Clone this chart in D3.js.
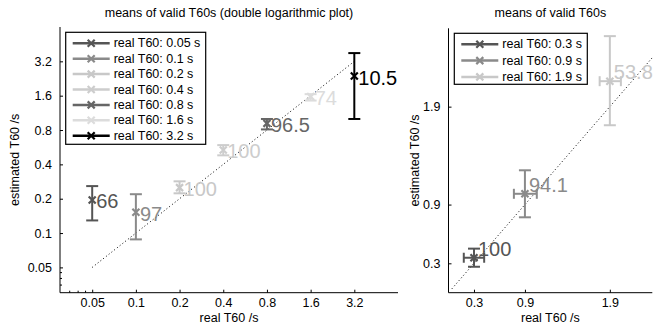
<!DOCTYPE html>
<html>
<head>
<script src="https://d3js.org/d3.v7.min.js"></script>
<style>
  body { margin: 0; background: #fff; }
  text { font-family: "Liberation Sans", Arial, sans-serif; }
</style>
</head>
<body>
<script>
// left panel: double log plot
const realL = [0.05, 0.1, 0.2, 0.4, 0.8, 1.6, 3.2];
const meanL = [0.195, 0.152, 0.25, 0.535, 0.915, 1.57, 2.38];
const lowL  = [0.129, 0.088, 0.223, 0.48, 0.81, 1.45, 1.0];
const highL = [0.258, 0.219, 0.284, 0.59, 1.0, 1.65, 3.78];
const pctL  = ["66", "97", "100", "100", "96.5", "74", "10.5"];
const colL  = ["#555", "#8a8a8a", "#c8c8c8", "#cdcdcd", "#666", "#dcdcdc", "#000"];
const ticksL = [0.05, 0.1, 0.2, 0.4, 0.8, 1.6, 3.2];
const minorL = [0.035, 0.04, 0.045];

// right panel: linear plot
const realR = [0.3, 0.9, 1.9];
const meanR = [0.357, 1.01, 2.16];
const lowR  = [0.265, 0.77, 1.71];
const highR = [0.45, 1.25, 2.62];
const xLowR = [0.18, 0.77, 1.78];
const xHighR = [0.42, 1.04, 2.03];
const pctR  = ["100", "94.1", "53.8"];
const colR  = ["#555", "#8a8a8a", "#c8c8c8"];
const ticksR = [0.3, 0.9, 1.9];

const svg = d3.select("body").append("svg")
  .attr("width", 662).attr("height", 327);

function panel(o) {
  const g = svg.append("g");
  const x = o.x, y = o.y;
  const [x0, x1] = x.range(), [y0, y1] = y.range();

  // diagonal reference
  g.append("line")
    .attr("x1", x(o.diag[0])).attr("y1", y(o.diag[0]))
    .attr("x2", x(o.diag[1])).attr("y2", y(o.diag[1]))
    .attr("stroke", "#000").attr("stroke-width", 1)
    .attr("stroke-dasharray", "1,2.5");

  // axes (inward ticks, no box)
  const ax = g.append("g").attr("transform", `translate(0,${y0})`)
    .call(d3.axisBottom(x).tickValues(o.ticks).tickFormat(d => d).tickSizeInner(-3).tickSizeOuter(0).tickPadding(5));
  const ay = g.append("g").attr("transform", `translate(${x0},0)`)
    .call(d3.axisLeft(y).tickValues(o.ticks).tickFormat(d => d).tickSizeInner(-3).tickSizeOuter(0).tickPadding(8));
  [ax, ay].forEach(a => {
    a.select(".domain").remove();
    a.selectAll("text").attr("font-size", 12.5).attr("fill", "#000");
  });
  g.append("line").attr("x1", x0).attr("x2", x0).attr("y1", y0).attr("y2", y1).attr("stroke", "#000");
  g.append("line").attr("x1", x0).attr("x2", x1).attr("y1", y0).attr("y2", y0).attr("stroke", "#000");
  if (o.minor) {
    o.minor.forEach(m => {
      g.append("line").attr("x1", x(m)).attr("x2", x(m)).attr("y1", y0).attr("y2", y0 - 2).attr("stroke", "#000");
      g.append("line").attr("x1", x0).attr("x2", x0 + 2).attr("y1", y(m)).attr("y2", y(m)).attr("stroke", "#000");
    });
  }

  // error bars and markers
  o.real.forEach((r, i) => {
    const c = o.col[i], cx = x(r), cy = y(o.mean[i]);
    const e = g.append("g").attr("stroke", c).attr("stroke-width", 2).attr("fill", "none");
    e.append("line").attr("x1", cx).attr("x2", cx).attr("y1", y(o.low[i])).attr("y2", y(o.high[i]));
    [o.low[i], o.high[i]].forEach(v =>
      e.append("line").attr("x1", cx - 6).attr("x2", cx + 6).attr("y1", y(v)).attr("y2", y(v)));
    if (o.xlow) {
      e.append("line").attr("x1", x(o.xlow[i])).attr("x2", x(o.xhigh[i])).attr("y1", cy).attr("y2", cy);
      [o.xlow[i], o.xhigh[i]].forEach(v =>
        e.append("line").attr("x1", x(v)).attr("x2", x(v)).attr("y1", cy - 5).attr("y2", cy + 5));
    }
    e.append("path").attr("stroke-width", 2.2)
      .attr("d", `M${cx - 3.5},${cy - 3.5}L${cx + 3.5},${cy + 3.5}M${cx - 3.5},${cy + 3.5}L${cx + 3.5},${cy - 3.5}`);
    g.append("text").attr("x", cx + 4).attr("y", cy + o.labelDy)
      .attr("font-size", 20).attr("fill", c).attr("dominant-baseline", "central")
      .text(o.pct[i]);
  });

  // titles
  const mx = (x0 + x1) / 2;
  g.append("text").attr("x", mx).attr("y", 17).attr("text-anchor", "middle")
    .attr("font-size", 12.5).text(o.title);
  g.append("text").attr("x", mx).attr("y", 322).attr("text-anchor", "middle")
    .attr("font-size", 12.5).text("real T60 /s");
  g.append("text").attr("transform", `translate(${o.ylabX},${(y0 + y1) / 2}) rotate(-90)`)
    .attr("text-anchor", "middle").attr("font-size", 12.5).text("estimated T60 /s");

  // legend
  const lg = g.append("g");
  lg.append("rect").attr("x", o.leg.x).attr("y", o.leg.y).attr("width", o.leg.w).attr("height", o.leg.h)
    .attr("fill", "#fff").attr("stroke", "#000").attr("stroke-width", 1.2);
  o.real.forEach((r, i) => {
    const ly = o.leg.y + 11 + i * o.leg.step, lx = o.leg.x + 7;
    const c = o.col[i];
    lg.append("line").attr("x1", lx).attr("x2", lx + 37).attr("y1", ly).attr("y2", ly)
      .attr("stroke", c).attr("stroke-width", 2.5);
    const mxl = lx + 18.5;
    lg.append("path").attr("stroke", c).attr("stroke-width", 2.2)
      .attr("d", `M${mxl - 3.5},${ly - 3.5}L${mxl + 3.5},${ly + 3.5}M${mxl - 3.5},${ly + 3.5}L${mxl + 3.5},${ly - 3.5}`);
    lg.append("text").attr("x", lx + 41).attr("y", ly).attr("dominant-baseline", "central")
      .attr("font-size", 12.5).text(`real T60: ${r} s`);
  });
}

panel({
  x: d3.scaleLog().domain([0.03, 6.4]).range([60, 398]),
  y: d3.scaleLog().domain([0.03, 6.4]).range([292.7, 27]),
  ticks: ticksL, minor: minorL, diag: [0.05, 3.2],
  real: realL, mean: meanL, low: lowL, high: highL, pct: pctL, col: colL,
  labelDy: 1.5,
  title: "means of valid T60s (double logarithmic plot)", ylabX: 19,
  leg: { x: 65.7, y: 32.3, w: 140, h: 112, step: 15.4 }
});

panel({
  x: d3.scaleLinear().domain([0, 2.4]).range([448.5, 652.3]),
  y: d3.scaleLinear().domain([0, 2.7]).range([292.7, 28.3]),
  ticks: ticksR, diag: [0.04, 2.4],
  real: realR, mean: meanR, low: lowR, high: highR, xlow: xLowR, xhigh: xHighR,
  pct: pctR, col: colR,
  labelDy: -9,
  title: "means of valid T60s", ylabX: 419,
  leg: { x: 454.3, y: 33.3, w: 133, h: 51, step: 16.3 }
});
</script>
</body>
</html>
